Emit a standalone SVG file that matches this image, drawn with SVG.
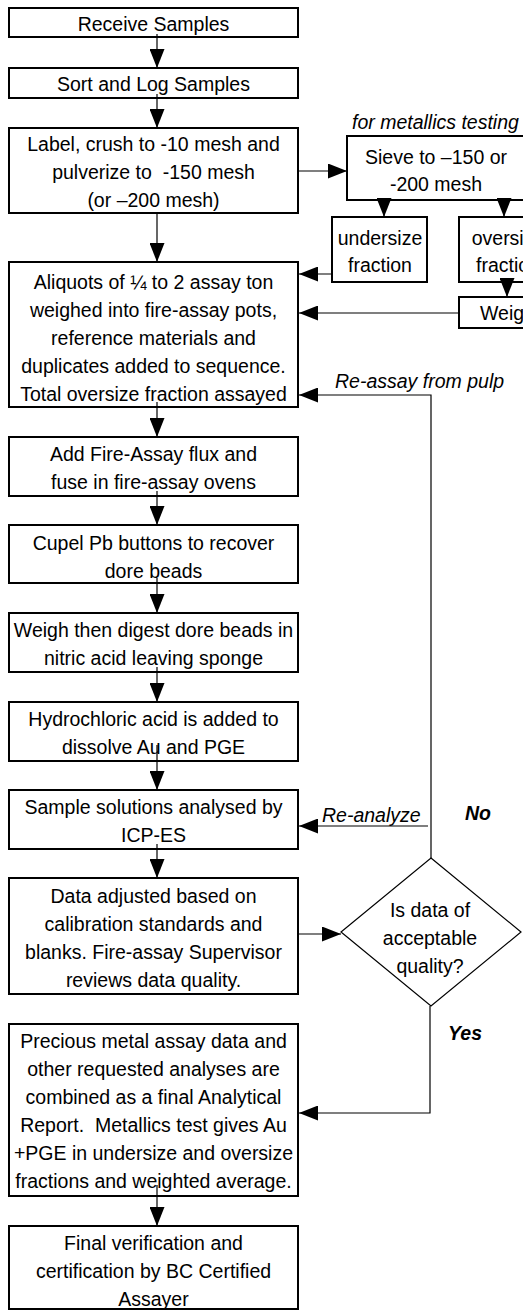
<svg xmlns="http://www.w3.org/2000/svg" width="523" height="1311" viewBox="0 0 523 1311">
<style>
.box{fill:#fff;stroke:#000;stroke-width:2}
.dia{fill:#fff;stroke:#000;stroke-width:1.2}
.t{font-family:"Liberation Sans",Arial,sans-serif;font-size:19.5px;fill:#000;text-anchor:middle;white-space:pre}
.ts{font-family:"Liberation Sans",Arial,sans-serif;font-size:19.5px;fill:#000;text-anchor:start}
.it{font-family:"Liberation Sans",Arial,sans-serif;font-size:19.5px;font-style:italic;fill:#000;text-anchor:start}
.bi{font-family:"Liberation Sans",Arial,sans-serif;font-size:19.5px;font-style:italic;font-weight:bold;fill:#000;text-anchor:start}
.c{fill:none;stroke:#000;stroke-width:1.2}
</style>
<defs>
<marker id="ah" viewBox="0 0 19 15" markerWidth="19" markerHeight="15" refX="19" refY="7.5" markerUnits="userSpaceOnUse" orient="auto">
<path d="M0,0 L19,7.5 L0,15 z" fill="#000"/>
</marker>
</defs>

<g id="n1"><rect class="box" x="9" y="8" width="289" height="29"/><text class="t" x="153.5" y="31">Receive Samples</text></g>
<g id="n2"><rect class="box" x="9" y="68" width="289" height="30"/><text class="t" x="153.5" y="91">Sort and Log Samples</text></g>
<g id="n3"><rect class="box" x="9" y="128" width="289" height="85"/>
<text class="t" x="153.5" y="151">Label, crush to -10 mesh and</text>
<text class="t" x="153.5" y="179">pulverize to  -150 mesh</text>
<text class="t" x="153.5" y="207">(or –200 mesh)</text></g>
<g id="n4"><rect class="box" x="9" y="262" width="289" height="145"/>
<text class="t" x="153.5" y="289">Aliquots of ¼ to 2 assay ton</text>
<text class="t" x="153.5" y="317">weighed into fire-assay pots,</text>
<text class="t" x="153.5" y="345">reference materials and</text>
<text class="t" x="153.5" y="373">duplicates added to sequence.</text>
<text class="t" x="153.5" y="401">Total oversize fraction assayed</text></g>
<g id="n5"><rect class="box" x="9" y="437" width="289" height="59"/>
<text class="t" x="153.5" y="461">Add Fire-Assay flux and</text>
<text class="t" x="153.5" y="489">fuse in fire-assay ovens</text></g>
<g id="n6"><rect class="box" x="9" y="525" width="289" height="58"/>
<text class="t" x="153.5" y="550">Cupel Pb buttons to recover</text>
<text class="t" x="153.5" y="578">dore beads</text></g>
<g id="n7"><rect class="box" x="9" y="613" width="289" height="59"/>
<text class="t" x="153.5" y="637">Weigh then digest dore beads in</text>
<text class="t" x="153.5" y="665">nitric acid leaving sponge</text></g>
<g id="n8"><rect class="box" x="9" y="702" width="289" height="59"/>
<text class="t" x="153.5" y="726">Hydrochloric acid is added to</text>
<text class="t" x="153.5" y="754">dissolve Au and PGE</text></g>
<g id="n9"><rect class="box" x="9" y="790" width="289" height="59"/>
<text class="t" x="153.5" y="814">Sample solutions analysed by</text>
<text class="t" x="153.5" y="842">ICP-ES</text></g>
<g id="n10"><rect class="box" x="9" y="878" width="289" height="116"/>
<text class="t" x="153.5" y="903">Data adjusted based on</text>
<text class="t" x="153.5" y="931">calibration standards and</text>
<text class="t" x="153.5" y="959">blanks. Fire-assay Supervisor</text>
<text class="t" x="153.5" y="987">reviews data quality.</text></g>
<g id="n11"><rect class="box" x="9" y="1024" width="289" height="172"/>
<text class="t" x="153.5" y="1048">Precious metal assay data and</text>
<text class="t" x="153.5" y="1076">other requested analyses are</text>
<text class="t" x="153.5" y="1104">combined as a final Analytical</text>
<text class="t" x="153.5" y="1132">Report.  Metallics test gives Au</text>
<text class="t" x="153.5" y="1160">+PGE in undersize and oversize</text>
<text class="t" x="153.5" y="1188">fractions and weighted average.</text></g>
<g id="n12"><rect class="box" x="9" y="1226" width="289" height="83"/>
<text class="t" x="153.5" y="1250">Final verification and</text>
<text class="t" x="153.5" y="1278">certification by BC Certified</text>
<text class="t" x="153.5" y="1306">Assayer</text></g>

<g id="sieve"><text class="it" x="352" y="129">for metallics testing</text>
<rect class="box" x="347" y="136" width="180" height="64"/>
<text class="t" x="436" y="164">Sieve to –150 or</text>
<text class="t" x="436" y="191">-200 mesh</text></g>
<g id="under"><rect class="box" x="332" y="217" width="95" height="65"/>
<text class="t" x="380" y="245">undersize</text>
<text class="t" x="380" y="272">fraction</text></g>
<g id="over"><rect class="box" x="459" y="217" width="98" height="65"/>
<text class="t" x="508" y="245">oversize</text>
<text class="t" x="508" y="272">fraction</text></g>
<g id="weigh"><rect class="box" x="459" y="297" width="98" height="31"/>
<text class="ts" x="480" y="320">Weigh</text></g>
<g id="decision"><polygon class="dia" points="431,858 521,932 431,1006 341,932"/>
<text class="t" x="430" y="917">Is data of</text>
<text class="t" x="430" y="945">acceptable</text>
<text class="t" x="430" y="973">quality?</text></g>

<g id="connectors">
<line class="c" x1="157" y1="34" x2="157" y2="68" marker-end="url(#ah)"/>
<line class="c" x1="157" y1="94" x2="157" y2="128" marker-end="url(#ah)"/>
<line class="c" x1="157" y1="213" x2="157" y2="262" marker-end="url(#ah)"/>
<line class="c" x1="157" y1="402" x2="157" y2="437" marker-end="url(#ah)"/>
<line class="c" x1="157" y1="491" x2="157" y2="525" marker-end="url(#ah)"/>
<line class="c" x1="157" y1="578" x2="157" y2="613" marker-end="url(#ah)"/>
<line class="c" x1="157" y1="667" x2="157" y2="702" marker-end="url(#ah)"/>
<line class="c" x1="157" y1="745" x2="157" y2="790" marker-end="url(#ah)"/>
<line class="c" x1="157" y1="844" x2="157" y2="878" marker-end="url(#ah)"/>
<line class="c" x1="157" y1="1185" x2="157" y2="1226" marker-end="url(#ah)"/>
<line class="c" x1="298" y1="171" x2="347" y2="171" marker-end="url(#ah)"/>
<line class="c" x1="384" y1="200" x2="384" y2="217" marker-end="url(#ah)"/>
<line class="c" x1="504" y1="200" x2="504" y2="217" marker-end="url(#ah)"/>
<line class="c" x1="507" y1="282" x2="507" y2="297" marker-end="url(#ah)"/>
<line class="c" x1="332" y1="274" x2="299" y2="274" marker-end="url(#ah)"/>
<line class="c" x1="459" y1="313" x2="299" y2="313" marker-end="url(#ah)"/>
<polyline class="c" points="431,858 431,395 299,395" marker-end="url(#ah)"/>
<text class="it" x="335" y="388">Re-assay from pulp</text>
<line class="c" x1="428" y1="826" x2="299" y2="826" marker-end="url(#ah)"/>
<text class="it" x="322" y="822">Re-analyze</text>
<text class="bi" x="465" y="820">No</text>
<line class="c" x1="298" y1="934" x2="341" y2="934" marker-end="url(#ah)"/>
<polyline class="c" points="430,1006 430,1113 299,1113" marker-end="url(#ah)"/>
<text class="bi" x="448" y="1040">Yes</text>
</g>
</svg>
